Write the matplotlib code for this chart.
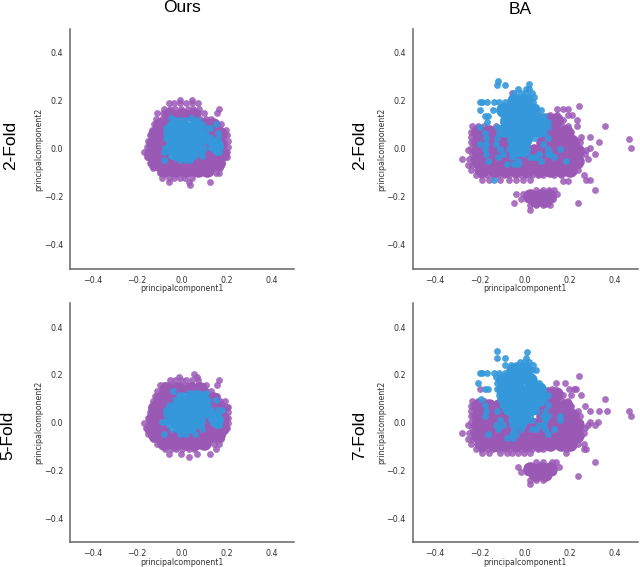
import matplotlib
matplotlib.use('Agg')
import matplotlib.pyplot as plt

PURPLE = '#9b59b6'
BLUE = '#3498db'

# Values, one (y, [x, ...]) entry per row of dots
ours2_purple = [
    (.205, [-.01, .045]),
    (.19, [-.06, -.035, -.01, .02, .045, .07]),
    (.168, [-.08, -.055, -.03, -.003, .025, .05, .078, .165]),
    (.148, [-.11, -.085, -.06, -.03, -.005, .02, .045, .07, .1, .155]),
    (.125, [-.115, -.09, -.065, .08, .105, .13]),
    (.102, [-.125, -.1, -.075, .1, .125, .15, .175]),
    (.08, [-.135, -.11, -.085, .125, .15, .175, .195]),
    (.056, [-.145, -.12, -.095, .13, .155, .18, .2]),
    (.032, [-.15, -.125, -.1, .1, .18, .205]),
    (.008, [-.155, -.13, -.105, -.08, .09, .115, .18, .205]),
    (-.012, [-.17, -.145, -.12, -.095, -.07, .07, .095, .12, .18, .2]),
    (-.035, [-.155, -.13, -.105, -.08, .055, .08, .105, .13, .155, .18, .2]),
    (-.058, [-.145, -.12, -.095, -.07, -.045, -.02, .005, .03, .055, .08, .105, .13, .155, .18]),
    (-.08, [-.13, -.105, -.08, -.055, -.03, -.005, .02, .045, .07, .095, .12, .145, .17]),
    (-.102, [-.1, -.075, -.05, -.025, 0, .025, .05, .08, .15, .165]),
    (-.12, [-.09, -.06, -.035, -.01, .015, .045]),
    (-.138, [-.06, .03, .125]),
    (-.15, [.035]),
]
ours2_purple_core = [
    (.14, [-.06, 0, .05]),
    (.1, [-.1, -.05, .1, .14]),
    (.06, [-.12, -.08, .12, .17]),
    (.02, [-.13, -.09, .11, .17]),
    (-.02, [-.14, -.09, .1, .15, .18]),
    (-.06, [-.12, -.07, -.02, .03, .08, .13, .16]),
    (-.09, [-.08, -.03, .02, .07, .11]),
]
ours2_blue = [
    (.13, [-.05, .04]),
    (.12, [-.03, -.01, .015, .05, .07]),
    (.105, [-.055, -.03, -.005, .02, .045, .07, .09, .15]),
    (.085, [-.07, -.045, -.02, .005, .03, .055, .08, .105, .125]),
    (.065, [-.07, -.045, -.02, .005, .03, .055, .08, .1, .16]),
    (.045, [-.07, -.045, -.02, .005, .03, .055, .08, .1, .13, .16]),
    (.025, [-.06, -.035, -.01, .015, .04, .065, .09, .125, .15, .165]),
    (.005, [-.075, -.05, -.025, 0, .025, .05, .075, .1, .13, .155, .165]),
    (-.015, [-.08, -.055, -.03, -.005, .02, .045, .07, .09, .15, .165]),
    (-.03, [-.05, -.02, .005, .03, .055, .09]),
    (-.045, [-.08, -.01, .02, .035]),
]
ours2_blue_core = [
    (.09, [-.04, .01, .06]),
    (.05, [-.045, .005, .055, .095]),
    (.01, [-.04, .01, .06, .15]),
    (-.02, [-.02, .03]),
]

ours5_purple = [
    (.205, [.055]),
    (.192, [-.015, .065]),
    (.178, [-.055, -.03, -.005, .02, .045, .07, .165]),
    (.158, [-.1, -.08, -.055, -.03, -.005, .02, .045, .07, .105, .155]),
    (.135, [-.11, -.085, -.06, -.035, .105, .13]),
    (.112, [-.12, -.095, -.07, .105, .13, .155]),
    (.09, [-.13, -.105, -.08, .12, .145, .17, .19]),
    (.068, [-.14, -.115, -.09, .12, .145, .2, .205]),
    (.045, [-.145, -.12, -.095, .115, .18, .205]),
    (.022, [-.15, -.125, -.1, .1, .18, .205]),
    (0, [-.17, -.145, -.12, -.095, .09, .115, .19, .205]),
    (-.022, [-.16, -.135, -.11, -.085, .06, .085, .11, .135, .175, .2]),
    (-.045, [-.15, -.125, -.1, -.075, -.05, -.025, .03, .055, .08, .105, .13, .155, .18]),
    (-.068, [-.13, -.105, -.08, -.055, -.03, -.005, .02, .045, .07, .095, .12, .15, .175]),
    (-.09, [-.11, -.085, -.06, -.035, -.01, .015, .04, .065, .09, .145, .165]),
    (-.11, [-.075, -.05, -.025, 0, .03, .055, .15]),
    (-.13, [-.06, -.005, .065, .125]),
    (-.142, [.03]),
]
ours5_purple_core = [
    (.14, [-.07, -.02, .04, .08]),
    (.1, [-.1, -.05, .1, .14]),
    (.06, [-.12, -.08, .13, .17]),
    (.02, [-.13, -.09, .12, .18]),
    (-.02, [-.14, -.09, .1, .15, .18]),
    (-.05, [-.12, -.07, -.02, .03, .08, .13, .16]),
    (-.085, [-.08, -.03, .02, .06, .1]),
]
ours5_blue = [
    (.135, [-.04]),
    (.125, [.03, .055, .075, .105]),
    (.115, [-.015, .005, .03, .055, .08, .1]),
    (.095, [-.03, -.005, .02, .045, .07, .095, .115, .15]),
    (.075, [-.06, -.035, -.01, .015, .04, .065, .09, .115]),
    (.055, [-.07, -.045, -.02, .005, .03, .055, .08, .105, .13, .16, .18]),
    (.035, [-.07, -.045, -.02, .005, .03, .055, .08, .105, .135, .16]),
    (.015, [-.065, -.04, -.015, .01, .035, .06, .085, .13, .15, .17]),
    (.005, [-.09, -.07, .14, .165]),
    (-.01, [-.06, -.035, -.01, .015, .04, .065, .085, .15, .165]),
    (-.025, [-.045, -.02, .005, .03, .05, .09]),
    (-.048, [-.08, -.01, .02, .06]),
]
ours5_blue_core = [
    (.09, [0, .05, .09]),
    (.05, [-.04, .01, .06, .1]),
    (.01, [-.03, .02, .07, .15]),
    (-.015, [-.01, .03]),
]

ba2_purple = [
    (.235, [-.06]),
    (.18, [.24]),
    (.165, [.14, .17, .19]),
    (.14, [.11, .14, .19, .21]),
    (.12, [.12, .15, .17, .23]),
    (.095, [-.235, -.21, -.185, -.13, .115, .14, .165, .19, .23, .355]),
    (.072, [-.24, -.215, -.19, -.165, -.14, .105, .13, .155, .18, .205]),
    (.05, [-.24, -.215, -.19, -.165, -.14, -.115, .11, .135, .16, .185, .21, .25, .29]),
    (.028, [-.24, -.215, -.19, -.165, -.14, -.115, -.09, .095, .12, .145, .17, .195, .22, .245, .33]),
    (.005, [-.24, -.215, -.19, -.165, -.14, -.115, -.09, .07, .095, .12, .145, .17, .195, .22, .245, .29, .47]),
    (.04, [.46]),
    (-.003, [-.255, .27]),
    (-.02, [-.235, -.21, -.185, -.16, -.135, -.11, -.085, -.06, .04, .065, .09, .115, .14, .165, .19, .215, .24, .265, .31]),
    (-.043, [-.28, -.25, -.23, -.205, -.18, -.155, -.13, -.105, -.08, -.055, -.03, -.005, .02, .045, .07, .095, .12, .145, .17, .195, .22, .245, .28]),
    (-.066, [-.255, -.235, -.21, -.185, -.16, -.135, -.11, -.085, -.06, -.035, -.01, .015, .04, .065, .09, .115, .14, .165, .19, .215, .24]),
    (-.088, [-.24, -.215, -.19, -.165, -.14, -.115, -.09, -.065, -.04, -.015, .01, .035, .06, .085, .11, .135, .16, .185, .21, .235]),
    (-.11, [-.22, -.195, -.17, -.145, -.12, -.095, -.07, -.045, -.02, .005, .03, .055, .08, .13, .16, .26]),
    (-.128, [-.19, -.16, -.11, -.07, -.04, -.01, .02, .27, .29]),
    (-.135, [.17, .19]),
    (-.17, [.05, .08, .105, .13, .31]),
    (-.19, [-.04, -.01, .02, .05, .08, .11, .14]),
    (-.21, [-.02, .01, .04, .07, .1, .125]),
    (-.225, [-.05, .235]),
    (-.235, [.02, .05, .08, .11]),
    (-.255, [.02]),
]
ba2_purple_core = [
    (.12, [.1, .135]),
    (.07, [-.21, -.16, -.115, .09, .13, .18]),
    (.03, [-.21, -.16, -.11, -.07, .08, .12, .17, .21]),
    (-.01, [-.21, -.16, -.11, -.06, -.01, .04, .1, .15, .2, .23]),
    (-.05, [-.21, -.16, -.11, -.06, -.01, .04, .09, .14, .19, .23]),
    (-.09, [-.19, -.14, -.09, -.04, .01, .06, .11, .16, .2]),
    (-.195, [.02, .07, .105]),
    (-.215, [.05, .09]),
]
ba2_blue = [
    (.283, [-.12]),
    (.27, [.015]),
    (.265, [-.125, -.09]),
    (.25, [-.03, .005, .015]),
    (.235, [-.05, -.02, .005, .03]),
    (.215, [-.06, -.035, -.01, .015, .04]),
    (.195, [-.2, -.19, -.17, -.14, -.115, -.09, -.065, -.04, -.015, .01, .035]),
    (.175, [-.105, -.08, -.055, -.03, -.005, .02, .05]),
    (.16, [-.2, -.145, -.08, -.055, -.03, -.005, .02, .045, .07]),
    (.135, [-.18, -.165, -.09, -.065, -.04, -.015, .01, .035, .06, .085]),
    (.112, [-.17, -.1, -.075, -.05, -.025, 0, .025, .05, .075, .1]),
    (.09, [-.2, -.125, -.1, -.075, -.05, -.025, 0, .025, .05, .075, .1]),
    (.068, [-.18, -.115, -.09, -.065, -.04, -.015, .01, .035, .06, .085]),
    (.045, [-.175, -.125, -.06, -.035, -.01, .015, .04, .1]),
    (.022, [-.2, -.175, -.13, -.065, -.04, -.015, .01, .08]),
    (0, [-.18, -.11, -.07, -.045, -.02, .005, .1, .155]),
    (-.022, [-.175, -.1, -.06, -.035, -.01, .06, .1, .11]),
    (-.035, [-.12, -.06, .02, .035, .05, .13]),
    (-.05, [-.165, -.03, .07, .18]),
    (-.065, [-.08, -.05, -.03]),
    (-.13, [-.14]),
]
ba2_blue_core = [
    (.2, [-.05, 0]),
    (.16, [-.1, -.07, -.02, .03]),
    (.12, [-.08, -.03, .02, .065]),
    (.08, [-.09, -.04, .01, .06]),
    (.04, [-.05, 0]),
    (0, [-.04, -.01]),
]

ba7_purple = [
    (.235, [-.06]),
    (.195, [.24]),
    (.165, [.135, .175]),
    (.14, [.195, .215, .225, .12, -.2]),
    (.115, [.12, .15, .17, .205, .25]),
    (.1, [.355]),
    (.092, [-.235, -.21, -.185, .115, .14, .165, .19]),
    (.07, [-.24, -.215, -.19, -.165, .105, .13, .155, .18, .205, .265]),
    (.05, [-.24, -.215, -.19, -.165, -.14, -.115, .11, .135, .16, .185, .21, .235, .29, .33, .365, .46]),
    (.028, [-.24, -.215, -.19, -.165, -.14, -.115, -.09, .095, .12, .145, .17, .195, .22, .245, .47]),
    (.005, [-.24, -.215, -.19, -.165, -.14, -.115, -.09, .07, .095, .12, .145, .17, .195, .22, .245, .29, .325]),
    (-.01, [-.255, .28, .31]),
    (-.02, [-.235, -.21, -.185, -.16, -.135, -.11, -.085, -.06, .04, .065, .09, .115, .14, .165, .19, .215, .24, .265]),
    (-.043, [-.28, -.25, -.23, -.205, -.18, -.155, -.13, -.105, -.08, -.055, -.03, -.005, .02, .045, .07, .095, .12, .145, .17, .195, .22, .245, .26]),
    (-.066, [-.255, -.235, -.21, -.185, -.16, -.135, -.11, -.085, -.06, -.035, -.01, .015, .04, .065, .09, .115, .14, .165, .19, .215, .24]),
    (-.088, [-.24, -.215, -.19, -.165, -.14, -.115, -.09, -.065, -.04, -.015, .01, .035, .06, .085, .11, .135, .16, .185, .21, .235, .26]),
    (-.11, [-.22, -.195, -.17, -.145, -.12, -.095, -.07, -.045, -.02, .005, .03, .055, .08, .18, .26, .27]),
    (-.128, [-.19, -.16, -.11, -.08, -.06, -.03, -.005, .02, .18]),
    (-.165, [.05, .08, .12, .135, .31]),
    (-.185, [-.03, .01, .04, .07, .1, .125, .15]),
    (-.205, [-.02, .01, .04, .07, .1, .125]),
    (-.222, [.03, .06, .09, .235]),
    (-.24, [.02, .05, .08]),
    (-.255, [.022]),
]
ba7_purple_core = [
    (.12, [.1, .135]),
    (.07, [-.21, -.16, -.115, .09, .13, .18]),
    (.03, [-.21, -.16, -.11, -.07, .08, .12, .17, .21]),
    (-.01, [-.21, -.16, -.11, -.06, -.01, .04, .1, .15, .2, .23]),
    (-.05, [-.21, -.16, -.11, -.06, -.01, .04, .09, .14, .19, .23]),
    (-.09, [-.19, -.14, -.09, -.04, .01, .06, .11, .16, .2]),
    (-.195, [.02, .07, .11]),
    (-.215, [.05, .09]),
]
ba7_blue = [
    (.3, [-.125]),
    (.295, [.01]),
    (.27, [-.125, .005, -.09]),
    (.255, [-.025, .015, -.005]),
    (.24, [-.09, -.065, -.04, -.015, .01, .035]),
    (.22, [-.07, -.045, -.02, .005, .03, .05]),
    (.208, [-.2, -.19, -.17, -.14, -.115, -.09]),
    (.19, [-.13, -.105, -.08, -.055, -.03, -.005, .02]),
    (.165, [-.21, -.125, -.1, -.075, -.05, .04, .06]),
    (.14, [-.18, -.165, -.125, -.1, -.075, -.05, -.025, 0, .025, .05, .08]),
    (.118, [-.115, -.09, -.065, -.04, -.015, .01, .035, .06, .085, .1]),
    (.098, [-.195, -.11, -.085, -.06, -.035, -.01, .015, .04, .065, .09]),
    (.075, [-.18, -.105, -.08, -.055, -.03, -.005, .02, .045, .1]),
    (.05, [-.175, -.125, -.06, -.035, -.01, .015, .05, .09]),
    (.028, [-.18, -.06, -.04, -.015, .02, .1, .08, .155]),
    (.012, [-.11, -.065, -.04, -.015, .03, .09, .155]),
    (-.008, [-.13, -.1, -.06, -.035, -.01, .06, .085]),
    (-.025, [-.12, -.05, -.02, .03, .05, .09, .13]),
    (-.045, [-.165, -.04, -.06, .1]),
    (-.065, [-.08, -.055]),
]
ba7_blue_core = [
    (.22, [-.05, 0]),
    (.18, [-.1, -.08, -.03, .02]),
    (.14, [-.1, -.08, -.03, .02, .06]),
    (.1, [-.09, -.04, .01, .06]),
    (.06, [-.07, -.02, .03]),
    (.02, [-.04, -.01]),
]

tick_values = [-.4, -.2, 0.0, .2, .4]
tick_labels = ['\u22120.4', '\u22120.2', '0.0', '0.2', '0.4']
x_name = 'principalcomponent1'
y_name = 'principalcomponent2'


def unpack(rows):
    xs, ys = [], []
    for y, row in rows:
        for x in row:
            xs.append(x)
            ys.append(y)
    return xs, ys


def panel(rect, purple, purple_core, blue, blue_core):
    ax = fig.add_axes([rect[0] / 640, 1 - rect[3] / 567,
                       (rect[2] - rect[0]) / 640, (rect[3] - rect[1]) / 567])
    # the cores stand in for the thousands of overlapped dots inside each blob
    ax.scatter(*unpack(purple_core), s=110, color=PURPLE, linewidths=0)
    ax.scatter(*unpack(purple), s=24, color=PURPLE, alpha=0.85, linewidths=0)
    ax.scatter(*unpack(blue_core), s=110, color=BLUE, linewidths=0)
    ax.scatter(*unpack(blue), s=24, color=BLUE, alpha=0.9, linewidths=0)
    ax.set_xlim(-.5, .5)
    ax.set_ylim(-.5, .5)
    ax.set_xticks(tick_values)
    ax.set_xticklabels(tick_labels)
    ax.set_yticks(tick_values)
    ax.set_yticklabels(tick_labels)
    ax.tick_params(length=0, labelsize=5.8, labelcolor='#333333', pad=5)
    ax.set_xlabel(x_name, fontsize=5.7, color='#333333', labelpad=-0.5)
    ax.set_ylabel(y_name, fontsize=5.7, color='#333333')
    ax.yaxis.set_label_coords(-0.118, 0.5)
    for side in ['top', 'right']:
        ax.spines[side].set_visible(False)
    for side in ['left', 'bottom']:
        ax.spines[side].set_color('#666666')
        ax.spines[side].set_linewidth(1.1)
    return ax


fig = plt.figure(figsize=(6.4, 5.67), dpi=100)

panel((70, 29, 294, 268.7), ours2_purple, ours2_purple_core, ours2_blue, ours2_blue_core)
panel((412.7, 29, 637.7, 268.7), ba2_purple, ba2_purple_core, ba2_blue, ba2_blue_core)
panel((70, 303.3, 294, 542.3), ours5_purple, ours5_purple_core, ours5_blue, ours5_blue_core)
panel((412.7, 303.3, 637.7, 542.3), ba7_purple, ba7_purple_core, ba7_blue, ba7_blue_core)

head = dict(family='Liberation Sans', fontsize=12.5, ha='center', va='center', color='black')
fig.text(182 / 640, 1 - 8 / 567, 'Ours', **head)
fig.text(520 / 640, 1 - 9 / 567, 'BA', **head)
fig.text(11 / 640, 1 - 145 / 567, '2-Fold', rotation=90, **head)
fig.text(360 / 640, 1 - 145 / 567, '2-Fold', rotation=90, **head)
fig.text(8 / 640, 1 - 435 / 567, '5-Fold', rotation=90, **head)
fig.text(360 / 640, 1 - 435 / 567, '7-Fold', rotation=90, **head)

plt.savefig('out.png', dpi=100)
